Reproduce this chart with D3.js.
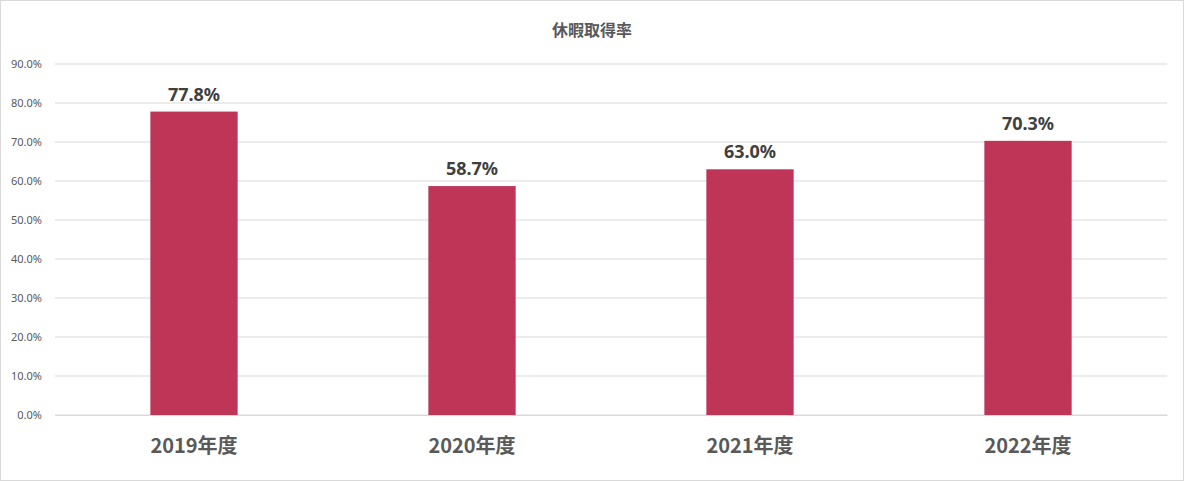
<!DOCTYPE html>
<html><head><meta charset="utf-8">
<script src="https://cdn.jsdelivr.net/npm/d3@7"></script>
<style>body{margin:0;background:#fff;font-family:"Noto Sans CJK JP","Noto Sans",sans-serif;}</style>
</head><body><svg id="chart" width="1184" height="481"></svg>
<script>
const categories = ["2019年度", "2020年度", "2021年度", "2022年度"];
const values = [77.8, 58.7, 63.0, 70.3];
const ticks = [0, 10, 20, 30, 40, 50, 60, 70, 80, 90];

const svg = d3.select("#chart");
svg.append("rect").attr("x", 0.5).attr("y", 0.5).attr("width", 1183).attr("height", 480)
  .attr("fill", "#fff").attr("stroke", "#d9d9d9");

const x = d3.scaleBand().domain(categories).range([55, 1167]).paddingInner(0.686).paddingOuter(0.343);
const y = d3.scaleLinear().domain([0, 90]).range([415, 64]);

svg.append("g").selectAll("line").data(ticks).enter().append("line")
  .attr("x1", 55).attr("x2", 1167).attr("y1", d => y(d)).attr("y2", d => y(d))
  .attr("stroke", "#d9d9d9").attr("stroke-width", 1);

const yAxis = svg.append("g").attr("transform", "translate(45,0)")
  .call(d3.axisLeft(y).tickValues(ticks).tickSize(0).tickFormat(d => d.toFixed(1) + "%"));
yAxis.select(".domain").remove();
yAxis.selectAll("text").attr("fill", "#595959").style("font-size", "11px").style("font-family", "Noto Sans, sans-serif");

svg.append("g").selectAll("rect").data(values).enter().append("rect")
  .attr("x", (d, i) => x(categories[i])).attr("width", x.bandwidth())
  .attr("y", d => y(d)).attr("height", d => y(0) - y(d)).attr("fill", "#be3558");

svg.append("g").selectAll("text").data(values).enter().append("text")
  .attr("x", (d, i) => x(categories[i]) + x.bandwidth() / 2).attr("y", d => y(d) - 11)
  .attr("text-anchor", "middle").attr("fill", "#404040")
  .style("font-size", "18px").style("font-weight", "bold").style("font-family", "Noto Sans, sans-serif")
  .text(d => d.toFixed(1) + "%");

const xAxis = svg.append("g").attr("transform", "translate(0,415)")
  .call(d3.axisBottom(x).tickSize(0).tickPadding(24));
xAxis.select(".domain").attr("stroke", "#d9d9d9");
xAxis.selectAll("text").attr("fill", "#595959").style("font-size", "20px").style("font-weight", "bold")
  .style("font-family", "Noto Sans CJK JP, sans-serif");

svg.append("text").attr("x", 592).attr("y", 36).attr("text-anchor", "middle")
  .attr("fill", "#595959").style("font-size", "16px").style("font-weight", "bold").text("休暇取得率");
</script></body></html>
